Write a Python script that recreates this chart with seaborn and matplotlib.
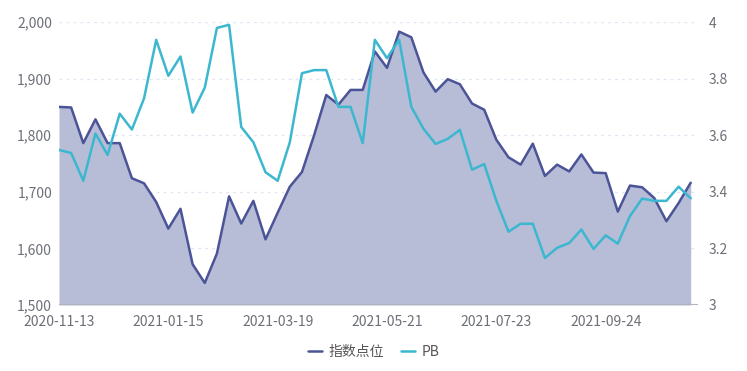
import matplotlib
matplotlib.use('Agg')
import matplotlib.pyplot as plt
import matplotlib.ticker as mticker
import seaborn as sns
import pandas as pd

# weekly dates, 2020-11-13 .. 2021-11-12
dates = pd.date_range("2020-11-13", periods=53, freq="7D").strftime("%Y-%m-%d").tolist()

index_points = [
    1850, 1849, 1786, 1828, 1786, 1786, 1724, 1715, 1682, 1635,
    1670, 1572, 1539, 1591, 1692, 1644, 1684, 1616, 1663, 1709,
    1735, 1800, 1871, 1854, 1880, 1880, 1948, 1919, 1983, 1973,
    1911, 1877, 1899, 1890, 1856, 1845, 1792, 1761, 1748, 1785,
    1728, 1748, 1736, 1766, 1734, 1733, 1665, 1711, 1708, 1689,
    1648, 1680, 1716,
]

pb = [
    3.548, 3.537, 3.439, 3.606, 3.530, 3.676, 3.620, 3.730, 3.937, 3.810,
    3.878, 3.680, 3.768, 3.979, 3.990, 3.629, 3.575, 3.469, 3.439, 3.575,
    3.819, 3.830, 3.830, 3.700, 3.700, 3.572, 3.937, 3.872, 3.937, 3.700,
    3.623, 3.569, 3.587, 3.619, 3.478, 3.498, 3.368, 3.259, 3.287, 3.287,
    3.166, 3.202, 3.219, 3.267, 3.198, 3.246, 3.217, 3.314, 3.376, 3.368,
    3.368, 3.418, 3.377,
]

df = pd.DataFrame({"date": dates, "idx": index_points, "pb": pb})
df["pos"] = range(len(df))

sns.set_theme(style="white")
plt.rcParams['font.family'] = ['Noto Sans CJK SC', 'DejaVu Sans']

dark = "#4a5497"
cyan = "#3cb7d0"
fill = "#b7bcd7"
label_c = "#6e7079"

fig = plt.figure(figsize=(7.47, 3.71), dpi=100)
ax = fig.add_axes([59 / 747, 66 / 371, 639 / 747, 283 / 371])

ax.fill_between(df["pos"], 1500, df["idx"], color=fill, linewidth=0, zorder=1)
sns.lineplot(data=df, x="pos", y="idx", ax=ax, color=dark, linewidth=1.8, zorder=3, label="指数点位", legend=False)

ax2 = ax.twinx()
sns.lineplot(data=df, x="pos", y="pb", ax=ax2, color=cyan, linewidth=1.8, zorder=3, label="PB", legend=False)

ax.set_xlim(0, 52.6)
ax.set_ylim(1500, 2000)
ax2.set_ylim(3, 4)
ax.set_yticks(range(1500, 2001, 100))
ax.yaxis.set_major_formatter(mticker.FuncFormatter(lambda v, p: f"{int(v):,}"))
ax2.set_yticks([3, 3.2, 3.4, 3.6, 3.8, 4])
ax2.set_yticklabels(["3", "3.2", "3.4", "3.6", "3.8", "4"])

ax.grid(axis="y", color="#e0e6f1", linestyle=(0, (2, 3)), linewidth=1)
ax.set_axisbelow(True)

ticks = list(range(0, 53, 9))
ax.set_xticks(ticks)
ax.set_xticklabels([dates[i] for i in ticks])

for a in (ax, ax2):
    for s in a.spines.values():
        s.set_visible(False)
    a.set_xlabel("")
    a.set_ylabel("")
    a.tick_params(length=0, labelsize=10, colors=label_c)
ax.tick_params(axis="y", pad=5)
ax2.tick_params(axis="y", pad=8)
ax.tick_params(axis="x", pad=7)
ax.axhline(1500, color="#b0b3bd", linewidth=1.5, zorder=4)

h1, l1 = ax.get_legend_handles_labels()
h2, l2 = ax2.get_legend_handles_labels()
fig.legend(h1 + h2, l1 + l2, loc="center", bbox_to_anchor=(0.5, 1 - 352 / 371),
           ncol=2, frameon=False, fontsize=10, handlelength=1.0, handletextpad=0.5,
           columnspacing=1.2, labelcolor="#555555")

fig.savefig("out.png", dpi=100)
